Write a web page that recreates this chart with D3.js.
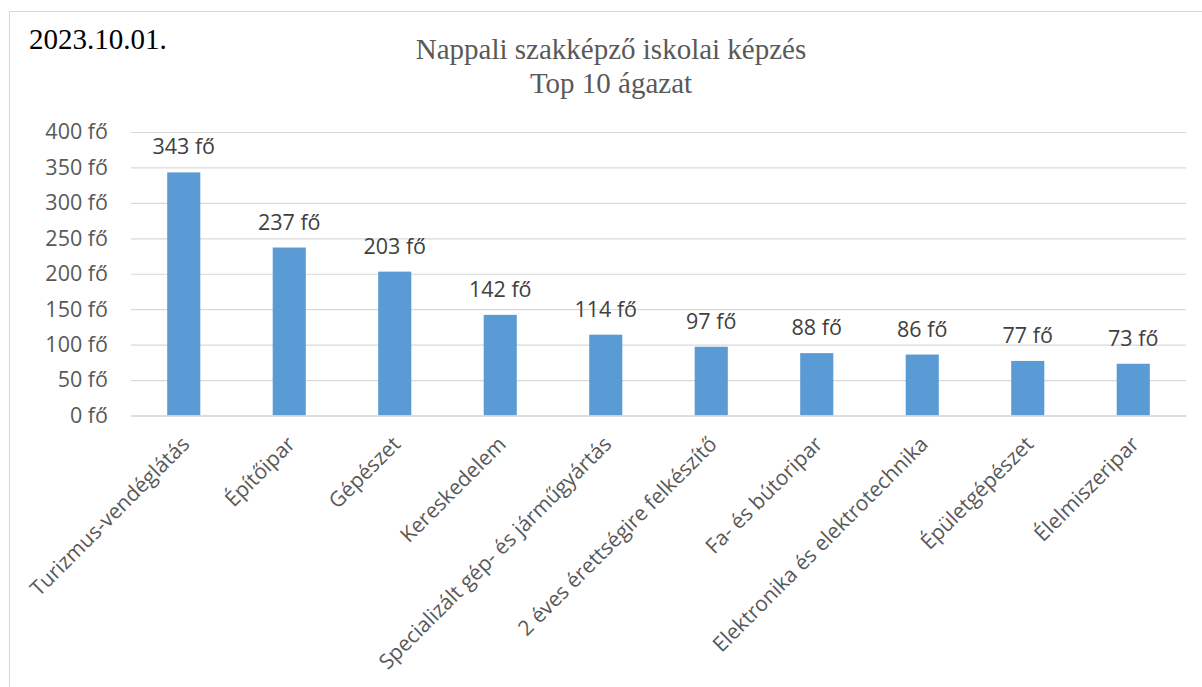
<!DOCTYPE html>
<html><head><meta charset="utf-8">
<script src="https://cdn.jsdelivr.net/npm/d3@7"></script>
<style>body{margin:0;background:#fff}svg{display:block}</style>
</head><body>
<script>
const categories = ["Turizmus-vendéglátás","Építőipar","Gépészet","Kereskedelem","Specializált gép- és járműgyártás","2 éves érettségire felkészítő","Fa- és bútoripar","Elektronika és elektrotechnika","Épületgépészet","Élelmiszeripar"];
const values = [343,237,203,142,114,97,88,86,77,73];
const yTicks = [0,50,100,150,200,250,300,350,400];
const titleLines = ["Nappali szakképző iskolai képzés","Top 10 ágazat"];
const dateLabel = "2023.10.01.";

const W=1202,H=687;
const svg=d3.select("body").append("svg").attr("width",W).attr("height",H);
svg.append("rect").attr("x",9.5).attr("y",11.5).attr("width",1210).attr("height",700)
  .attr("fill","#fff").attr("stroke","#d9d9d9").attr("stroke-width",1);

const m={l:131,r:1186,t:132,b:415.5};
const x=d3.scaleBand().domain(categories).range([m.l,m.r]).paddingInner(0.686).paddingOuter(0.343);
const y=d3.scaleLinear().domain([0,400]).range([m.b,m.t]);
const sans="'Open Sans', sans-serif";
const fs="21.5px";

const yAxis=svg.append("g").attr("transform",`translate(${m.l},0)`)
  .call(d3.axisLeft(y).tickValues(yTicks).tickSize(-(m.r-m.l)).tickPadding(23).tickFormat(d=>d+" fő"));
yAxis.select(".domain").remove();
yAxis.selectAll(".tick line").attr("stroke","#d9d9d9").attr("stroke-width",1.2);
yAxis.selectAll(".tick text").attr("fill","#595959").style("font-family",sans).style("font-size",fs);

svg.append("g").selectAll("rect").data(values).join("rect")
  .attr("x",(d,i)=>x(categories[i])).attr("width",x.bandwidth())
  .attr("y",d=>y(d)).attr("height",d=>y(0)-y(d)).attr("fill","#5b9bd5");

const xAxis=svg.append("g").attr("transform",`translate(0,${m.b})`)
  .call(d3.axisBottom(x).tickSize(0).tickPadding(0));
xAxis.select(".domain").attr("stroke","#d9d9d9").attr("stroke-width",1.5);
xAxis.selectAll(".tick text").attr("fill","#595959").style("font-family",sans).style("font-size","21px")
  .attr("text-anchor","end").attr("dy",0)
  .attr("transform","translate(7,30) rotate(-45)");

svg.append("g").selectAll("text").data(values).join("text")
  .attr("x",(d,i)=>x(categories[i])+x.bandwidth()/2).attr("y",d=>y(d)-18)
  .attr("text-anchor","middle").attr("fill","#404040").style("font-family",sans).style("font-size",fs)
  .text(d=>d+" fő");

svg.append("g").selectAll("text").data(titleLines).join("text")
  .attr("x",611).attr("y",(d,i)=>59+i*34).attr("text-anchor","middle")
  .attr("fill","#595959").style("font-family","'Liberation Serif', serif").style("font-size","29px").text(d=>d);

svg.append("text").attr("x",29).attr("y",49).attr("fill","#000")
  .style("font-family","'Liberation Serif', serif").style("font-size","29px").text(dateLabel);
</script>
</body></html>
